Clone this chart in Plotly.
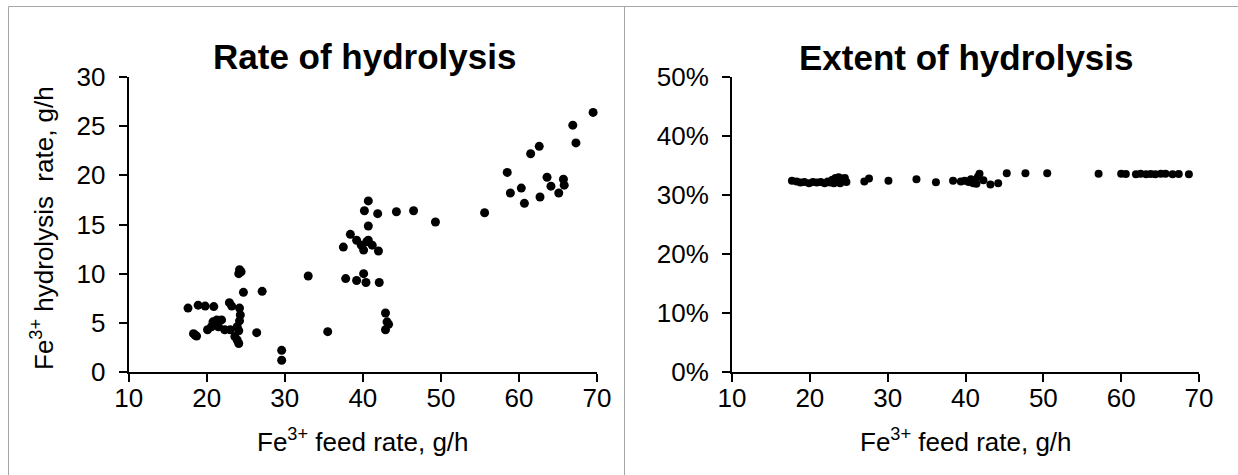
import plotly.graph_objects as go

# ---------------- data ----------------
# Left panel: Fe3+ feed rate (g/h) vs Fe3+ hydrolysis rate (g/h)
feed_rate = [17.6, 18.9, 19.8, 20.9, 22.9, 23.2, 24.2, 24.3, 24.2, 23.9, 24.1, 23.6, 23.9, 24.1,
             20.8, 21.3, 21.9, 21.5, 22.3, 23.0, 20.1, 18.3, 18.7, 18.5, 20.6, 24.2, 24.1, 24.4,
             24.7, 26.4, 27.1,
             29.6, 29.6, 33.0, 35.5, 37.8, 39.2, 40.1, 40.4, 42.1, 42.9, 43.1, 42.9, 43.3, 37.5,
             38.4, 39.2, 39.8, 40.5, 40.7, 41.2, 42.0, 40.1, 40.7, 40.7, 40.2, 41.9, 44.3, 46.5,
             49.3,
             55.6, 58.5, 58.9, 60.3, 60.7, 61.5, 62.6, 62.7, 63.6, 64.1, 65.1, 65.7, 65.8, 66.9,
             67.3, 69.5]
hydrolysis_rate = [6.5, 6.8, 6.7, 6.65, 7.05, 6.7, 6.5, 5.8, 5.2, 4.6, 4.2, 3.6, 3.25, 2.9,
                   5.1, 5.3, 5.3, 4.6, 4.3, 4.3, 4.3, 3.9, 3.65, 3.75, 4.6, 10.4, 10.0, 10.2,
                   8.1, 4.0, 8.2,
                   2.2, 1.2, 9.76, 4.1, 9.5, 9.3, 10.0, 9.1, 9.1, 6.0, 5.1, 4.3, 4.85, 12.7,
                   14.0, 13.4, 12.9, 13.25, 13.4, 12.9, 12.3, 12.4, 14.85, 17.4, 16.4, 16.1, 16.3, 16.4,
                   15.25,
                   16.2, 20.3, 18.2, 18.7, 17.15, 22.2, 22.95, 17.8, 19.8, 18.9, 18.2, 19.6, 19.0, 25.1,
                   23.3, 26.4]

# Right panel: Fe3+ feed rate (g/h) vs extent of hydrolysis (fraction)
feed_rate_ext = [17.7, 18.3, 18.8, 19.3, 19.9, 20.4, 20.9, 21.4, 21.9, 22.3, 22.6, 22.9, 23.1,
                 23.3, 23.5, 23.7, 23.9, 24.1, 24.3, 24.5, 24.7, 27.0, 27.6, 30.1, 33.7, 36.2,
                 38.4, 39.4, 39.9, 40.4, 40.7, 41.0, 41.4, 41.6, 41.8, 42.3, 43.2, 44.2, 45.3,
                 47.7, 50.5, 57.1, 60.0, 60.6, 61.9, 62.5, 63.2, 63.8, 64.4, 65.1, 65.7, 66.6,
                 67.4, 68.7, 70.9]
extent = [0.324, 0.323, 0.321, 0.322, 0.320, 0.322, 0.321, 0.322, 0.320, 0.323, 0.321, 0.326, 0.320,
          0.329, 0.323, 0.330, 0.320, 0.328, 0.324, 0.329, 0.322, 0.323, 0.328, 0.324, 0.3265, 0.3215,
          0.324, 0.323, 0.324, 0.322, 0.3265, 0.320, 0.319, 0.331, 0.336, 0.325, 0.318, 0.320, 0.337,
          0.337, 0.337, 0.336, 0.336, 0.3355, 0.335, 0.336, 0.335, 0.3355, 0.335, 0.336, 0.336, 0.335,
          0.3355, 0.335, 0.3345]

x_ticks = [10, 20, 30, 40, 50, 60, 70]
left_y_ticks = [0, 5, 10, 15, 20, 25, 30]
right_y_ticks = [0, 0.1, 0.2, 0.3, 0.4, 0.5]

title_left = "Rate of hydrolysis"
title_right = "Extent of hydrolysis"
x_title = "Fe<sup>3+</sup> feed rate, g/h"
y_title_left = "Fe<sup>3+</sup> hydrolysis\u00a0 rate, g/h"

# ---------------- layout helpers ----------------
W, H = 1238, 475
FONT = "Liberation Sans, Arial, sans-serif"


def fx(p):
    return p / W


def fy(p):
    return 1 - p / H


fig = go.Figure()
fig.add_trace(go.Scatter(x=feed_rate, y=hydrolysis_rate, mode="markers",
                         marker=dict(color="black", size=9, line=dict(width=0)),
                         xaxis="x", yaxis="y", showlegend=False, cliponaxis=False))
fig.add_trace(go.Scatter(x=feed_rate_ext, y=extent, mode="markers",
                         marker=dict(color="black", size=8, line=dict(width=0)),
                         xaxis="x2", yaxis="y2", showlegend=False, cliponaxis=False))

axis_common = dict(showline=True, linecolor="black", linewidth=2, ticks="outside",
                   ticklen=8, tickwidth=2, tickcolor="black", showgrid=False,
                   zeroline=False, automargin=False,
                   tickfont=dict(family=FONT, size=26, color="black"))

fig.update_layout(
    width=W, height=H,
    margin=dict(l=0, r=0, t=0, b=0, autoexpand=False),
    paper_bgcolor="white", plot_bgcolor="white",
    font=dict(family=FONT, color="black"),
    xaxis=dict(domain=[fx(128.7), fx(597)], range=[10, 70], tickvals=x_ticks,
               anchor="y", ticklabelstandoff=-6, **axis_common),
    yaxis=dict(domain=[fy(372), fy(77)], range=[0, 30], tickvals=left_y_ticks,
               anchor="x", ticklabelstandoff=8, **axis_common),
    xaxis2=dict(domain=[fx(732), fx(1199)], range=[10, 70], tickvals=x_ticks,
                anchor="y2", ticklabelstandoff=-6, **axis_common),
    yaxis2=dict(domain=[fy(372), fy(77)], range=[0, 0.5], tickvals=right_y_ticks,
                tickformat=".0%", anchor="x2", ticklabelstandoff=8, **axis_common),
)

annotations = [
    dict(text=f"<b>{title_left}</b>", x=fx(364), y=fy(56), font=dict(size=35)),
    dict(text=f"<b>{title_right}</b>", x=fx(966), y=fy(58), font=dict(size=35)),
    dict(text=x_title, x=fx(363), y=fy(440), font=dict(size=26)),
    dict(text=x_title, x=fx(966), y=fy(440), font=dict(size=26)),
    dict(text=y_title_left, x=fx(42), y=fy(228), font=dict(size=26), textangle=-90),
]
for a in annotations:
    a.update(xref="paper", yref="paper", showarrow=False, xanchor="center", yanchor="middle")
    a["font"].update(family=FONT, color="black")
fig.update_layout(annotations=annotations)

border = dict(type="line", xref="paper", yref="paper",
              line=dict(color="#a6a6a6", width=1))
fig.update_layout(shapes=[
    dict(x0=fx(8.5), x1=fx(8.5), y0=0, y1=fy(6.5), **border),
    dict(x0=fx(624.5), x1=fx(624.5), y0=0, y1=fy(6.5), **border),
    dict(x0=fx(8.5), x1=1, y0=fy(6.5), y1=fy(6.5), **border),
])

fig.write_html("out.html")
